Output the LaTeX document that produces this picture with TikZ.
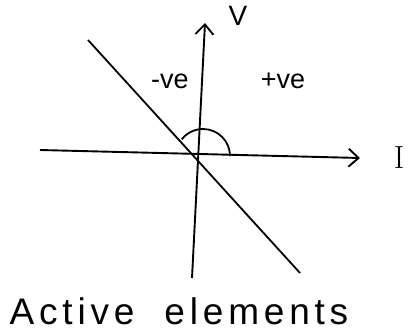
\documentclass[tikz,border=0pt]{standalone}
\usepackage{fontspec}
\setsansfont{Liberation Sans}
\usepackage{tikz}
\usetikzlibrary{arrows.meta, positioning}

\begin{document}
\begin{tikzpicture}[
    x=1pt, y=1pt,
    axis/.style={line width=1.9pt, -{Straight Barb[length=10pt, width=18pt, line width=1.9pt]}},
    curve/.style={line width=1.8pt},
    lbl/.style={font=\sffamily\fontsize{27}{30}\selectfont, inner sep=0pt},
    axlbl/.style={font=\sffamily\fontsize{28}{32}\selectfont, inner sep=0pt}
]
    \useasboundingbox (0,0) rectangle (417,333);

    % Achsenpunkte
    \coordinate (O) at (203,177);
    \coordinate (iStart) at (40,183);
    \coordinate (iEnd) at (360,175);
    \coordinate (vStart) at (192,55);
    \coordinate (vEnd) at (205,310);
    \coordinate (lineTop) at (88,293);
    \coordinate (lineBot) at (300,60);

    % Achsen
    \draw[axis] (iStart) -- (iEnd);
    \draw[axis] (vStart) -- (vEnd);
    \node[axlbl] (vLabel) at (238,317) {V};
    \node[font=\fontsize{32}{36}\selectfont, inner sep=0pt] (iLabel) at (399,175) {I};

    % Kennlinie
    \draw[curve] (lineTop) -- (lineBot);
    \draw[curve] ([xshift=27pt]O) arc[start angle=0, end angle=142, radius=27pt];

    % Bereiche
    \node[lbl] (neg) at (170,252) {-ve};
    \node[lbl] (pos) at (283,252) {+ve};

    % Titel
    \node[font=\sffamily\fontsize{37}{40}\selectfont\addfontfeature{LetterSpace=13}, inner sep=0pt] (title) at (179,22) {Active\hspace{30pt}elements};
\end{tikzpicture}
\end{document}
